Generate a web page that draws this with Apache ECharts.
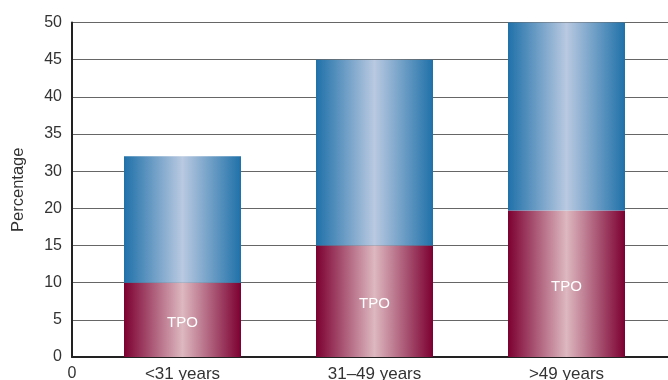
<!DOCTYPE html>
<html>
<head>
<meta charset="utf-8">
<script src="https://cdn.jsdelivr.net/npm/echarts@6/dist/echarts.min.js"></script>
<style>
  html, body { margin: 0; padding: 0; background: #ffffff; }
  #chart { width: 668px; height: 380px; }
</style>
</head>
<body>
<div id="chart"></div>
<script>
// categories and values (percent)
const categories = ['<31 years', '31\u201349 years', '>49 years'];
const tpoValues = [10, 15, 19.7];
const totalValues = [32, 45, 50];
// printed tick labels (note: the source axis skips 25)
const tickLabels = [0, 5, 10, 15, 20, 30, 35, 40, 45, 50];

const STEP = 5;

// map a printed percentage onto the evenly spaced tick positions
function toAxis(v) {
  for (let k = 0; k < tickLabels.length - 1; k++) {
    const a = tickLabels[k], b = tickLabels[k + 1];
    if (v <= b) return STEP * (k + (v - a) / (b - a));
  }
  return STEP * (tickLabels.length - 1);
}

const axisMax = STEP * (tickLabels.length - 1);
const tpoPos = tpoValues.map(toAxis);
const restPos = totalValues.map((v, i) => toAxis(v) - tpoPos[i]);

function barGradient(edge, mid) {
  return new echarts.graphic.LinearGradient(0, 0, 1, 0, [
    { offset: 0, color: edge },
    { offset: 0.5, color: mid },
    { offset: 1, color: edge }
  ]);
}

const font = 'Liberation Sans, Arial, sans-serif';
const myChart = echarts.init(document.getElementById('chart'));

const option = {
  animation: false,
  backgroundColor: '#ffffff',
  grid: [
    { left: 72, right: 0, top: 22.5, bottom: 23, outerBoundsMode: 'none', containLabel: false },
    { left: 86.5, right: 5.5, top: 22.5, bottom: 23, outerBoundsMode: 'none', containLabel: false }
  ],
  xAxis: [
    {
      gridIndex: 0,
      type: 'value',
      min: 0,
      max: 10,
      interval: 10,
      axisLine: { show: true, lineStyle: { color: '#222', width: 2 } },
      axisTick: { show: false },
      splitLine: { show: false },
      axisLabel: {
        showMaxLabel: false,
        margin: 9,
        color: '#333',
        fontSize: 16,
        fontFamily: font,
        formatter: v => (v === 0 ? '0' : '')
      }
    },
    {
      gridIndex: 1,
      type: 'category',
      data: categories,
      axisLine: { show: false },
      axisTick: { show: false },
      axisLabel: { margin: 9, color: '#333', fontSize: 17, fontFamily: font }
    }
  ],
  yAxis: [
    {
      gridIndex: 0,
      type: 'value',
      min: 0,
      max: axisMax,
      interval: STEP,
      name: 'Percentage',
      nameLocation: 'middle',
      nameGap: 45,
      nameTextStyle: { color: '#333', fontSize: 16.5, fontFamily: font },
      axisLine: { show: true, lineStyle: { color: '#222', width: 2 } },
      axisTick: { show: false },
      axisLabel: {
        margin: 10,
        color: '#333',
        fontSize: 16,
        fontFamily: font,
        formatter: v => String(tickLabels[Math.round(v / STEP)])
      },
      splitLine: { show: true, lineStyle: { color: '#666', width: 1 } }
    },
    {
      gridIndex: 1,
      type: 'value',
      min: 0,
      max: axisMax,
      interval: STEP,
      show: false,
      splitLine: { show: false }
    }
  ],
  series: [
    {
      name: 'TPO',
      type: 'bar',
      xAxisIndex: 1,
      yAxisIndex: 1,
      stack: 'total',
      barWidth: 117,
      data: tpoPos,
      itemStyle: { color: barGradient('#7c0031', '#ddb8c0') },
      label: {
        show: true,
        position: 'inside',
        offset: [0, 3],
        formatter: 'TPO',
        color: '#ffffff',
        fontSize: 15,
        fontFamily: font
      }
    },
    {
      name: 'Other',
      type: 'bar',
      xAxisIndex: 1,
      yAxisIndex: 1,
      stack: 'total',
      barWidth: 117,
      data: restPos,
      itemStyle: { color: barGradient('#1f71a9', '#b9c9e1') }
    }
  ]
};

myChart.setOption(option);
</script>
</body>
</html>
